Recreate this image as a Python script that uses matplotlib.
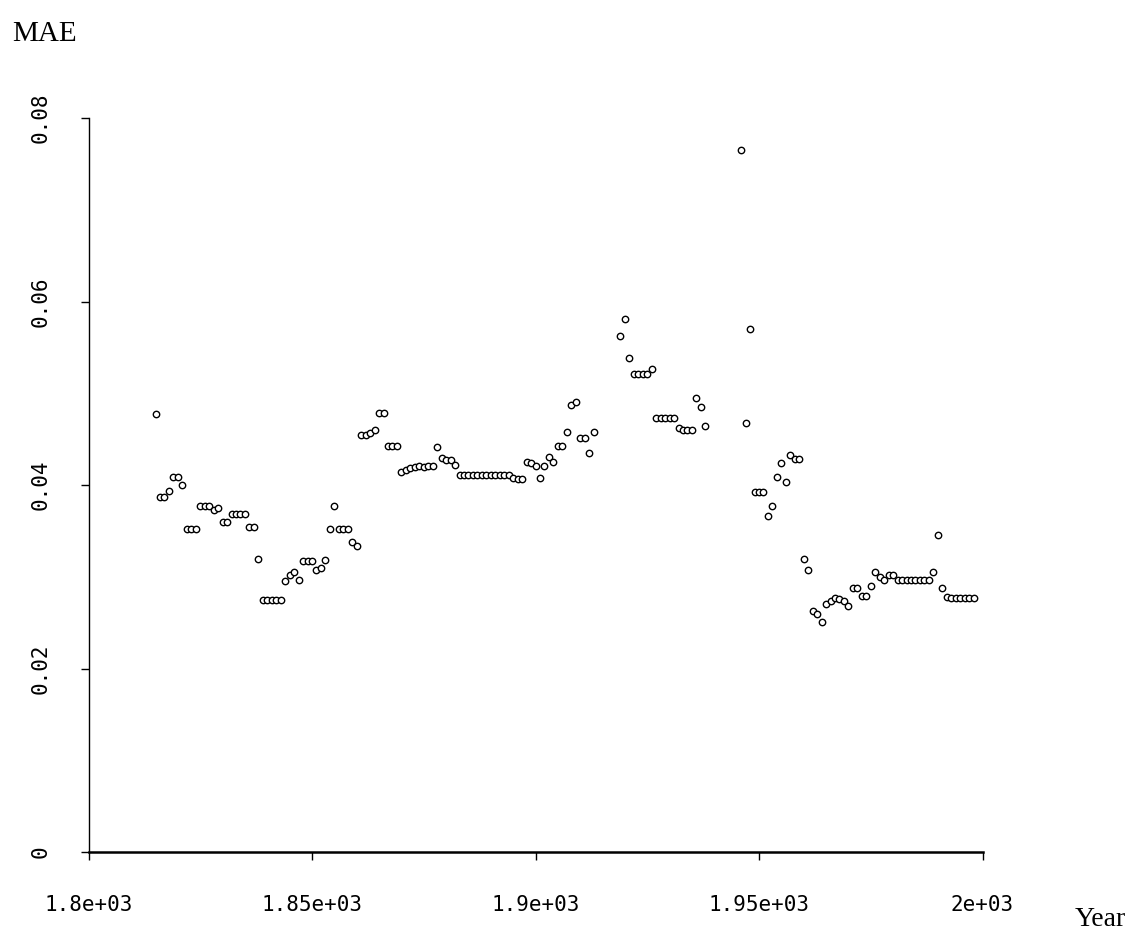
import matplotlib
matplotlib.use('Agg')
import matplotlib.pyplot as plt

# ---- data ----
years = (list(range(1815, 1914)) + list(range(1919, 1939)) + list(range(1946, 1999)))

mae_1815_1913 = [
    0.0477, 0.0387, 0.0387, 0.0393, 0.0409, 0.0409, 0.0400, 0.0352, 0.0352, 0.0352,   # 1815-1824
    0.0377, 0.0377, 0.0377, 0.0373, 0.0375, 0.0360, 0.0360, 0.0368, 0.0368, 0.0368,   # 1825-1834
    0.0368, 0.0354, 0.0354, 0.0319, 0.0275, 0.0275, 0.0275, 0.0275, 0.0275, 0.0295,   # 1835-1844
    0.0302, 0.0305, 0.0297, 0.0317, 0.0317, 0.0317, 0.0307, 0.0310, 0.0318, 0.0352,   # 1845-1854
    0.0377, 0.0352, 0.0352, 0.0352, 0.0338, 0.0333, 0.0455, 0.0455, 0.0457, 0.0460,   # 1855-1864
    0.0479, 0.0479, 0.0443, 0.0443, 0.0443, 0.0414, 0.0416, 0.0418, 0.0420, 0.0421,   # 1865-1874
    0.0420, 0.0421, 0.0421, 0.0441, 0.0429, 0.0427, 0.0427, 0.0422, 0.0411, 0.0411,   # 1875-1884
    0.0411, 0.0411, 0.0411, 0.0411, 0.0411, 0.0411, 0.0411, 0.0411, 0.0411, 0.0411,   # 1885-1894
    0.0408, 0.0407, 0.0407, 0.0425, 0.0424, 0.0421, 0.0408, 0.0421, 0.0431, 0.0425,   # 1895-1904
    0.0443, 0.0443, 0.0458, 0.0487, 0.0490, 0.0451, 0.0451, 0.0435, 0.0458,           # 1905-1913
]
mae_1919_1938 = [
    0.0562, 0.0581, 0.0538, 0.0521, 0.0521, 0.0521, 0.0521, 0.0526, 0.0473, 0.0473,   # 1919-1928
    0.0473, 0.0473, 0.0473, 0.0462, 0.0460, 0.0460, 0.0460, 0.0495, 0.0485, 0.0464,   # 1929-1938
]
mae_1946_1998 = [
    0.0765, 0.0468, 0.0570, 0.0392, 0.0392, 0.0392, 0.0366, 0.0377, 0.0409, 0.0424,   # 1946-1955
    0.0403, 0.0433, 0.0428, 0.0428, 0.0319, 0.0307, 0.0263, 0.0259, 0.0251, 0.0270,   # 1956-1965
    0.0274, 0.0277, 0.0276, 0.0274, 0.0268, 0.0288, 0.0288, 0.0279, 0.0279, 0.0290,   # 1966-1975
    0.0305, 0.0300, 0.0297, 0.0302, 0.0302, 0.0296, 0.0296, 0.0296, 0.0296, 0.0296,   # 1976-1985
    0.0296, 0.0296, 0.0296, 0.0305, 0.0346, 0.0288, 0.0278, 0.0277, 0.0277, 0.0277,   # 1986-1995
    0.0277, 0.0277, 0.0277,                                                           # 1996-1998
]
mae = mae_1815_1913 + mae_1919_1938 + mae_1946_1998

x_ticks = [1800, 1850, 1900, 1950, 2000]
x_tick_labels = ['1.8e+03', '1.85e+03', '1.9e+03', '1.95e+03', '2e+03']
y_ticks = [0, 0.02, 0.04, 0.06, 0.08]
y_tick_labels = ['0', '0.02', '0.04', '0.06', '0.08']

# ---- figure ----
fig = plt.figure(figsize=(11.31, 9.40), dpi=100)
fig.patch.set_facecolor('white')
ax = fig.add_axes([88.5 / 1131, (940 - 852) / 940, (982.5 - 88.5) / 1131, (852 - 118) / 940])

ax.plot(years, mae, linestyle='none', marker='o', markersize=4.6,
        markerfacecolor='white', markeredgecolor='black', markeredgewidth=1.0,
        clip_on=False)

ax.set_xlim(1800, 2000)
ax.set_ylim(0, 0.08)

for s in ('top', 'right'):
    ax.spines[s].set_visible(False)
ax.spines['left'].set_linewidth(1.0)
ax.spines['bottom'].set_linewidth(1.8)

mono = 'DejaVu Sans Mono'
ax.set_xticks(x_ticks)
ax.set_xticklabels(x_tick_labels, family=mono, fontsize=15)
ax.set_yticks(y_ticks)
ax.set_yticklabels(y_tick_labels, family=mono, fontsize=15, rotation=90, va='center')

ax.tick_params(axis='both', direction='out', length=6, width=1, color='black', labelcolor='black')
ax.tick_params(axis='x', pad=25)
ax.tick_params(axis='y', pad=21)

serif = ['Liberation Serif', 'DejaVu Serif']
fig.text(12 / 1131, 1 - 34 / 940, 'MAE', family=serif, fontsize=21, ha='left', va='center')
fig.text(1075 / 1131, 1 - 920 / 940, 'Year', family=serif, fontsize=20, ha='left', va='center')

fig.savefig('out.png', dpi=100, facecolor='white')
